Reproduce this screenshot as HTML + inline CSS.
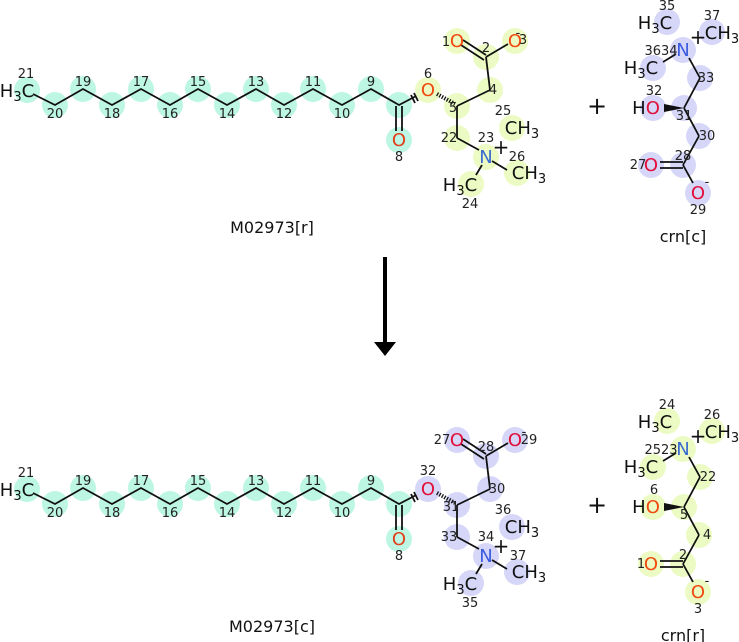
<!DOCTYPE html>
<html><head><meta charset="utf-8"><style>
body{margin:0;background:#fff}
svg{display:block}
text{font-family:"DejaVu Sans","Liberation Sans",sans-serif}
.n{font-size:13px;fill:#222;text-anchor:middle}
.a{font-size:18px;fill:#111;text-anchor:middle}
.s{font-size:13px}
.b{stroke:#111;stroke-width:1.8;fill:none}
.t{font-size:16px;fill:#111;text-anchor:middle}
</style></head><body>
<svg width="739" height="642" viewBox="0 0 739 642" xmlns="http://www.w3.org/2000/svg">
<defs>
<g id="chain">
 <g fill="#bdf7e3">
  <circle cx="27" cy="90" r="13"/><circle cx="55" cy="105" r="13"/><circle cx="83" cy="89" r="13"/><circle cx="112" cy="105" r="13"/><circle cx="141" cy="89" r="13"/><circle cx="170" cy="105" r="13"/><circle cx="198" cy="89" r="13"/><circle cx="227" cy="105" r="13"/><circle cx="256" cy="89" r="13"/><circle cx="284" cy="105" r="13"/><circle cx="313" cy="89" r="13"/><circle cx="342" cy="105" r="13"/><circle cx="371" cy="89" r="13"/><circle cx="399" cy="105" r="13"/><circle cx="399" cy="140" r="13"/>
 </g>
 <polyline class="b" points="33,94 55,105 83,89 112,105 141,89 170,105 198,89 227,105 256,89 284,105 313,89 342,105 371,89 399,105 420,94"/>
 <line class="b" x1="396" y1="106" x2="396" y2="131"/><line class="b" x1="402" y1="106" x2="402" y2="131"/>
 <line class="b" x1="411" y1="95" x2="415" y2="103"/><line class="b" x1="414" y1="93" x2="418" y2="101"/>
</g>
<g id="sub">
 <line class="b" x1="457" y1="106" x2="490" y2="90"/><line class="b" x1="490" y1="90" x2="486" y2="57"/>
 <line class="b" x1="486" y1="57" x2="508" y2="44"/>
 <line class="b" x1="463" y1="40" x2="486" y2="55"/><line class="b" x1="461" y1="45" x2="484" y2="60"/>
 <line class="b" x1="457" y1="106" x2="457" y2="138"/><line class="b" x1="457" y1="138" x2="479" y2="150"/>
 <line class="b" x1="492" y1="161" x2="507" y2="170"/><line class="b" x1="482" y1="165" x2="476" y2="175"/>
 <line stroke="#111" stroke-width="4" stroke-dasharray="1.3,1.5" x1="437" y1="94" x2="455" y2="104"/>
</g>
<g id="crn">
 <line class="b" x1="689" y1="58" x2="700" y2="78"/><line class="b" x1="700" y1="78" x2="684" y2="108"/>
 <line class="b" x1="684" y1="108" x2="699" y2="136"/><line class="b" x1="699" y1="136" x2="683" y2="165"/>
 <line class="b" x1="683" y1="165" x2="693" y2="183"/>
 <line class="b" x1="660" y1="162" x2="683" y2="162"/><line class="b" x1="660" y1="168" x2="683" y2="168"/>
 <line class="b" x1="676" y1="54" x2="663" y2="62"/>
 <path d="M684,108 L664,104 L664,112 Z" fill="#111"/>
</g>
</defs>

<!-- TOP -->
<use href="#chain"/>
<g fill="#ecfbc4">
 <circle cx="428" cy="90" r="13"/><circle cx="457" cy="106" r="13"/><circle cx="490" cy="90" r="13"/><circle cx="486" cy="57" r="13"/><circle cx="457" cy="41" r="13"/><circle cx="515" cy="41" r="13"/><circle cx="457" cy="138" r="13"/><circle cx="486" cy="157" r="13"/><circle cx="512" cy="128" r="13"/><circle cx="517" cy="173" r="13"/><circle cx="471" cy="184" r="13"/>
</g>
<use href="#sub"/>
<g fill="#d6d6f8">
 <circle cx="667" cy="22" r="13"/><circle cx="683" cy="50" r="13"/><circle cx="712" cy="32" r="13"/><circle cx="653" cy="68" r="13"/><circle cx="700" cy="78" r="13"/><circle cx="684" cy="108" r="13"/><circle cx="653" cy="108" r="13"/><circle cx="699" cy="136" r="13"/><circle cx="683" cy="165" r="13"/><circle cx="651" cy="165" r="13"/><circle cx="698" cy="193" r="13"/>
</g>
<use href="#crn"/>
<g class="a">
 <text x="17" y="97">H<tspan class="s" dy="4">3</tspan><tspan dy="-4">C</tspan></text>
 <text x="399" y="146" fill="#e0401a">O</text>
 <text x="428" y="96" fill="#f04a10">O</text>
 <text x="457" y="47" fill="#f04a10">O</text>
 <text x="515" y="47" fill="#f04a10">O</text>
 <text x="486" y="163" fill="#3a6bd0">N</text>
 <text x="522" y="134">CH<tspan class="s" dy="4">3</tspan></text>
 <text x="529" y="179">CH<tspan class="s" dy="4">3</tspan></text>
 <text x="460" y="191">H<tspan class="s" dy="4">3</tspan><tspan dy="-4">C</tspan></text>
 <text x="501" y="154" font-size="20">+</text>
 <text x="655" y="29">H<tspan class="s" dy="4">3</tspan><tspan dy="-4">C</tspan></text>
 <text x="683" y="56" fill="#3a5be0">N</text>
 <text x="722" y="39">CH<tspan class="s" dy="4">3</tspan></text>
 <text x="641" y="74">H<tspan class="s" dy="4">3</tspan><tspan dy="-4">C</tspan></text>
 <text x="698" y="44" font-size="20">+</text>
 <text x="646" y="114">H<tspan fill="#e0103a">O</tspan></text>
 <text x="651" y="171" fill="#e0103a">O</text>
 <text x="698" y="199" fill="#e0103a">O</text>
</g>
<g class="n">
 <text x="26" y="78">21</text><text x="55" y="118">20</text><text x="83" y="86">19</text><text x="112" y="118">18</text><text x="141" y="86">17</text><text x="170" y="118">16</text><text x="198" y="86">15</text><text x="227" y="118">14</text><text x="256" y="86">13</text><text x="284" y="118">12</text><text x="313" y="86">11</text><text x="342" y="118">10</text><text x="371" y="86">9</text><text x="399" y="161">8</text>
 <text x="428" y="78">6</text><text x="453" y="112">5</text><text x="493" y="94">4</text><text x="486" y="52">2</text><text x="446" y="46">1</text><text x="523" y="44">3</text><text x="518" y="37">-</text>
 <text x="449" y="142">22</text><text x="486" y="142">23</text><text x="503" y="115">25</text><text x="517" y="161">26</text><text x="470" y="208">24</text>
 <text x="667" y="10">35</text><text x="712" y="20">37</text><text x="661" y="55">3634</text><text x="706" y="82">33</text><text x="654" y="95">32</text><text x="684" y="120">31</text><text x="707" y="140">30</text><text x="683" y="160">28</text><text x="638" y="169">27</text><text x="698" y="214">29</text><text x="707" y="186">-</text>
</g>
<text class="t" x="272" y="233">M02973[r]</text>
<text class="t" x="683" y="242">crn[c]</text>
<text x="597" y="114" font-size="24" text-anchor="middle" fill="#111">+</text>

<!-- arrow -->
<line x1="385" y1="257" x2="385" y2="342" stroke="#000" stroke-width="4"/>
<path d="M374,342 L396,342 L385,356 Z" fill="#000"/>

<!-- BOTTOM -->
<g transform="translate(0,399)">
<use href="#chain"/>
<g fill="#d6d6f8">
 <circle cx="428" cy="90" r="13"/><circle cx="457" cy="106" r="13"/><circle cx="490" cy="90" r="13"/><circle cx="486" cy="57" r="13"/><circle cx="457" cy="41" r="13"/><circle cx="515" cy="41" r="13"/><circle cx="457" cy="138" r="13"/><circle cx="486" cy="157" r="13"/><circle cx="512" cy="128" r="13"/><circle cx="517" cy="173" r="13"/><circle cx="471" cy="184" r="13"/>
</g>
<use href="#sub"/>
<g fill="#ecfbc4">
 <circle cx="667" cy="22" r="13"/><circle cx="683" cy="50" r="13"/><circle cx="712" cy="32" r="13"/><circle cx="653" cy="68" r="13"/><circle cx="700" cy="78" r="13"/><circle cx="684" cy="108" r="13"/><circle cx="653" cy="108" r="13"/><circle cx="699" cy="136" r="13"/><circle cx="683" cy="165" r="13"/><circle cx="651" cy="165" r="13"/><circle cx="698" cy="193" r="13"/>
</g>
<use href="#crn"/>
<g class="a">
 <text x="17" y="97">H<tspan class="s" dy="4">3</tspan><tspan dy="-4">C</tspan></text>
 <text x="399" y="146" fill="#e0401a">O</text>
 <text x="428" y="96" fill="#e0103a">O</text>
 <text x="457" y="47" fill="#e0103a">O</text>
 <text x="515" y="47" fill="#e0103a">O</text>
 <text x="486" y="163" fill="#3a5be0">N</text>
 <text x="522" y="134">CH<tspan class="s" dy="4">3</tspan></text>
 <text x="529" y="179">CH<tspan class="s" dy="4">3</tspan></text>
 <text x="460" y="191">H<tspan class="s" dy="4">3</tspan><tspan dy="-4">C</tspan></text>
 <text x="501" y="154" font-size="20">+</text>
 <text x="655" y="29">H<tspan class="s" dy="4">3</tspan><tspan dy="-4">C</tspan></text>
 <text x="683" y="56" fill="#3a6bd0">N</text>
 <text x="722" y="39">CH<tspan class="s" dy="4">3</tspan></text>
 <text x="641" y="74">H<tspan class="s" dy="4">3</tspan><tspan dy="-4">C</tspan></text>
 <text x="698" y="44" font-size="20">+</text>
 <text x="646" y="114">H<tspan fill="#f04a10">O</tspan></text>
 <text x="651" y="171" fill="#f04a10">O</text>
 <text x="698" y="199" fill="#f04a10">O</text>
</g>
<g class="n">
 <text x="26" y="78">21</text><text x="55" y="118">20</text><text x="83" y="86">19</text><text x="112" y="118">18</text><text x="141" y="86">17</text><text x="170" y="118">16</text><text x="198" y="86">15</text><text x="227" y="118">14</text><text x="256" y="86">13</text><text x="284" y="118">12</text><text x="313" y="86">11</text><text x="342" y="118">10</text><text x="371" y="86">9</text><text x="399" y="161">8</text>
 <text x="428" y="76">32</text><text x="451" y="112">31</text><text x="497" y="94">30</text><text x="486" y="52">28</text><text x="442" y="45">27</text><text x="529" y="45">29</text><text x="524" y="37">-</text>
 <text x="449" y="142">33</text><text x="486" y="142">34</text><text x="503" y="115">36</text><text x="518" y="161">37</text><text x="470" y="208">35</text>
 <text x="667" y="10">24</text><text x="712" y="20">26</text><text x="661" y="55">2523</text><text x="708" y="82">22</text><text x="654" y="95">6</text><text x="684" y="120">5</text><text x="707" y="140">4</text><text x="683" y="160">2</text><text x="641" y="169">1</text><text x="698" y="214">3</text><text x="707" y="186">-</text>
</g>
<text class="t" x="272" y="233">M02973[c]</text>
<text class="t" x="683" y="242">crn[r]</text>
<text x="597" y="114" font-size="24" text-anchor="middle" fill="#111">+</text>
</g>
</svg>
</body></html>
